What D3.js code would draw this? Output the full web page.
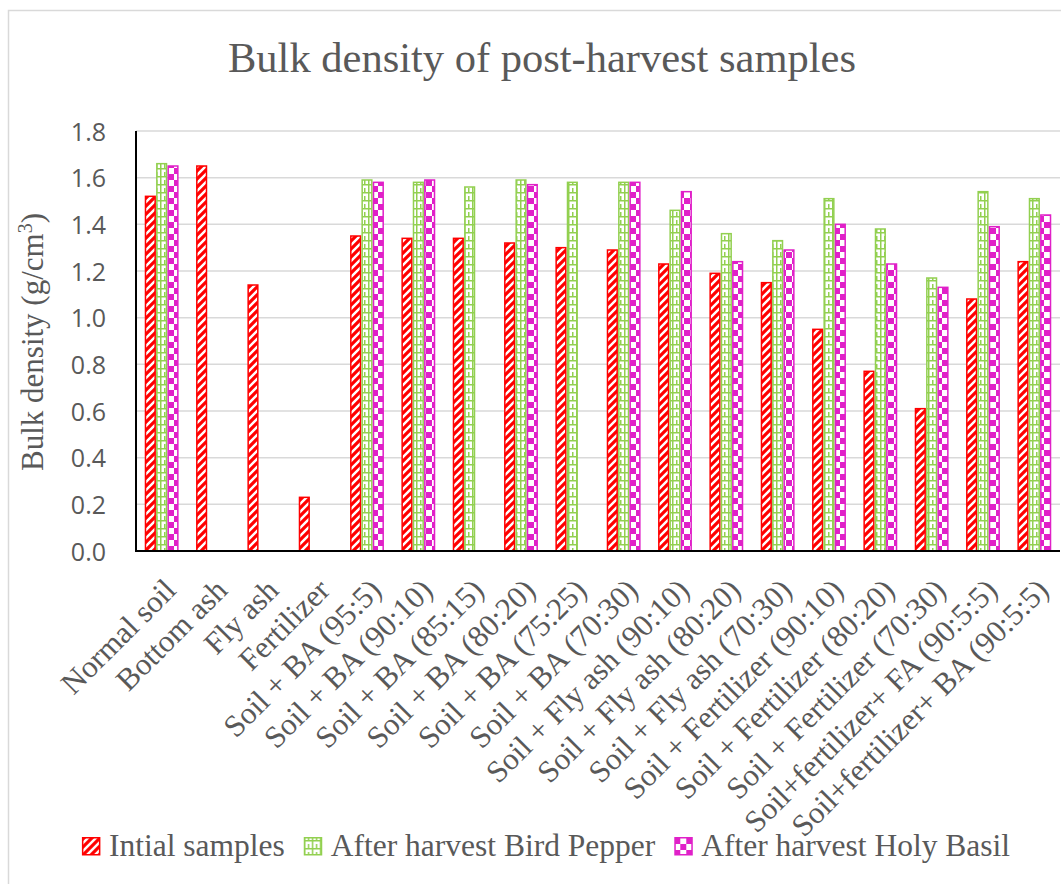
<!DOCTYPE html>
<html>
<head>
<meta charset="utf-8">
<script src="https://cdn.jsdelivr.net/npm/d3@7"></script>
<style>
  html, body { margin: 0; padding: 0; background: #fff; }
  svg { display: block; }
</style>
</head>
<body>
<svg id="chart" width="1061" height="884"></svg>
<script>
// Treatments along the x axis
const categories = [
  "Normal soil", "Bottom ash", "Fly ash", "Fertilizer",
  "Soil + BA (95:5)", "Soil + BA (90:10)", "Soil + BA (85:15)", "Soil + BA (80:20)",
  "Soil + BA (75:25)", "Soil + BA (70:30)",
  "Soil + Fly ash (90:10)", "Soil + Fly ash (80:20)", "Soil + Fly ash (70:30)",
  "Soil + Fertilizer (90:10)", "Soil + Fertilizer (80:20)", "Soil + Fertilizer (70:30)",
  "Soil+fertilizer+ FA (90:5:5)", "Soil+fertilizer+ BA (90:5:5)"
];

// Bulk density (g/cm3); null where no sample was measured
const initialSamples = [1.52, 1.65, 1.14, 0.23, 1.35, 1.34, 1.34, 1.32, 1.30, 1.29,
                        1.23, 1.19, 1.15, 0.95, 0.77, 0.61, 1.08, 1.24];
const birdPepper     = [1.66, null, null, null, 1.59, 1.58, 1.56, 1.59, 1.58, 1.58,
                        1.46, 1.36, 1.33, 1.51, 1.38, 1.17, 1.54, 1.51];
const holyBasil      = [1.65, null, null, null, 1.58, 1.59, null, 1.57, null, 1.58,
                        1.54, 1.24, 1.29, 1.40, 1.23, 1.13, 1.39, 1.44];

const seriesNames = ["Intial samples", "After harvest Bird Pepper", "After harvest Holy Basil"];
const seriesValues = [initialSamples, birdPepper, holyBasil];
const yTicks = [0, 0.2, 0.4, 0.6, 0.8, 1.0, 1.2, 1.4, 1.6, 1.8];

const plot = { left: 136, right: 1060, top: 131, bottom: 551 };
const textColor = "#595959";
const serif = "Liberation Serif, Times New Roman, serif";
const sans = "Open Sans, Noto Sans, sans-serif";

const svg = d3.select("#chart");

// Hatch patterns for each series
const defs = svg.append("defs");

const pRed = defs.append("pattern").attr("id", "pat-red")
  .attr("patternUnits", "userSpaceOnUse").attr("width", 8).attr("height", 8);
pRed.append("rect").attr("width", 8).attr("height", 8).attr("fill", "#fff");
pRed.append("path")
  .attr("d", "M-2,10 L10,-2 M-6,6 L6,-6 M2,14 L14,2")
  .attr("stroke", "#ff0000").attr("stroke-width", 3.2);

const pGreen = defs.append("pattern").attr("id", "pat-green")
  .attr("patternUnits", "userSpaceOnUse").attr("width", 8).attr("height", 8);
pGreen.append("rect").attr("width", 8).attr("height", 8).attr("fill", "#fff");
pGreen.append("path")
  .attr("d", "M0,0.75 H8 M0.75,0 V8 M4.75,4 V8")
  .attr("stroke", "#92d050").attr("stroke-width", 1.5);

const pMag = defs.append("pattern").attr("id", "pat-mag")
  .attr("patternUnits", "userSpaceOnUse").attr("width", 12).attr("height", 12);
pMag.append("rect").attr("width", 12).attr("height", 12).attr("fill", "#e020c8");
pMag.append("rect").attr("x", 0).attr("y", 0).attr("width", 6).attr("height", 6).attr("fill", "#fff");
pMag.append("rect").attr("x", 6).attr("y", 6).attr("width", 6).attr("height", 6).attr("fill", "#fff");

const fills = ["url(#pat-red)", "url(#pat-green)", "url(#pat-mag)"];
const strokes = ["#ff0000", "#92d050", "#e020c8"];

// Outer chart frame
svg.append("rect")
  .attr("x", 8.5).attr("y", 10.5).attr("width", 1200).attr("height", 1000)
  .attr("fill", "none").attr("stroke", "#d9d9d9").attr("stroke-width", 1.5);

// Scales
const x0 = d3.scaleBand().domain(categories)
  .range([plot.left, plot.right]).paddingInner(0.35).paddingOuter(0.175);
const x1 = d3.scaleBand().domain(d3.range(3))
  .range([0, x0.bandwidth()]).paddingInner(0.06);
const y = d3.scaleLinear().domain([0, 1.8]).range([plot.bottom, plot.top]);

// Gridlines
svg.append("g")
  .selectAll("line").data(yTicks.filter(t => t > 0)).join("line")
  .attr("x1", plot.left).attr("x2", plot.right)
  .attr("y1", d => y(d)).attr("y2", d => y(d))
  .attr("stroke", "#d9d9d9").attr("stroke-width", 1.5);

// Bars
const bars = [];
categories.forEach((c, i) => {
  seriesValues.forEach((vals, s) => {
    if (vals[i] != null) bars.push({ c, s, v: vals[i] });
  });
});
svg.append("g").selectAll("rect").data(bars).join("rect")
  .attr("x", d => x0(d.c) + x1(d.s) + 0.5)
  .attr("y", d => y(d.v))
  .attr("width", x1.bandwidth() - 1)
  .attr("height", d => y(0) - y(d.v))
  .attr("fill", d => fills[d.s])
  .attr("stroke", d => strokes[d.s])
  .attr("stroke-width", 1.5);

// Y axis
const yAxis = svg.append("g")
  .attr("transform", `translate(${plot.left},0)`)
  .call(d3.axisLeft(y).tickValues(yTicks).tickFormat(d3.format(".1f")).tickSize(0).tickPadding(30));
yAxis.select(".domain").remove();
yAxis.selectAll("text")
  .attr("fill", textColor).style("font-family", sans).attr("font-size", 25)
  .attr("dy", "0.36em");
svg.append("line")
  .attr("x1", plot.left).attr("x2", plot.left)
  .attr("y1", plot.top).attr("y2", plot.bottom + 1)
  .attr("stroke", "#000").attr("stroke-width", 2);

// X axis
const xAxis = svg.append("g")
  .attr("transform", `translate(0,${plot.bottom})`)
  .call(d3.axisBottom(x0).tickSize(0).tickPadding(0));
xAxis.select(".domain").remove();
xAxis.selectAll("text")
  .attr("fill", textColor).style("font-family", serif).attr("font-size", 31)
  .attr("text-anchor", "end")
  .attr("dy", 0).attr("y", 0)
  .attr("transform", "translate(16,41) rotate(-45)");
svg.append("line")
  .attr("x1", plot.left - 1).attr("x2", plot.right)
  .attr("y1", plot.bottom).attr("y2", plot.bottom)
  .attr("stroke", "#000").attr("stroke-width", 2);

// Title
svg.append("text")
  .attr("x", 542).attr("y", 72)
  .attr("text-anchor", "middle")
  .style("font-family", serif).attr("font-size", 42.5).attr("fill", textColor)
  .text("Bulk density of post-harvest samples");

// Y axis title
const yt = svg.append("text")
  .attr("transform", "translate(43,342) rotate(-90)")
  .attr("text-anchor", "middle")
  .style("font-family", serif).attr("font-size", 31).attr("fill", textColor);
yt.append("tspan").text("Bulk density (g/cm");
yt.append("tspan").attr("baseline-shift", "super").attr("font-size", 20).text("3");
yt.append("tspan").text(")");

// Legend
const legend = svg.append("g");
let lx = 0;
seriesNames.forEach((name, s) => {
  const g = legend.append("g");
  g.append("rect").attr("x", 0.75).attr("y", -18.25).attr("width", 17).attr("height", 17)
    .attr("fill", fills[s]).attr("stroke", strokes[s]).attr("stroke-width", 1.5);
  const t = g.append("text").attr("x", 27).attr("y", 0)
    .style("font-family", serif).attr("font-size", 31.5).attr("fill", textColor).text(name);
  const w = 27 + t.node().getComputedTextLength();
  g.attr("transform", `translate(${lx},0)`);
  lx += w + 19;
});
const legendWidth = lx - 19;
legend.attr("transform", `translate(${546 - legendWidth / 2},856)`);
</script>
</body>
</html>
